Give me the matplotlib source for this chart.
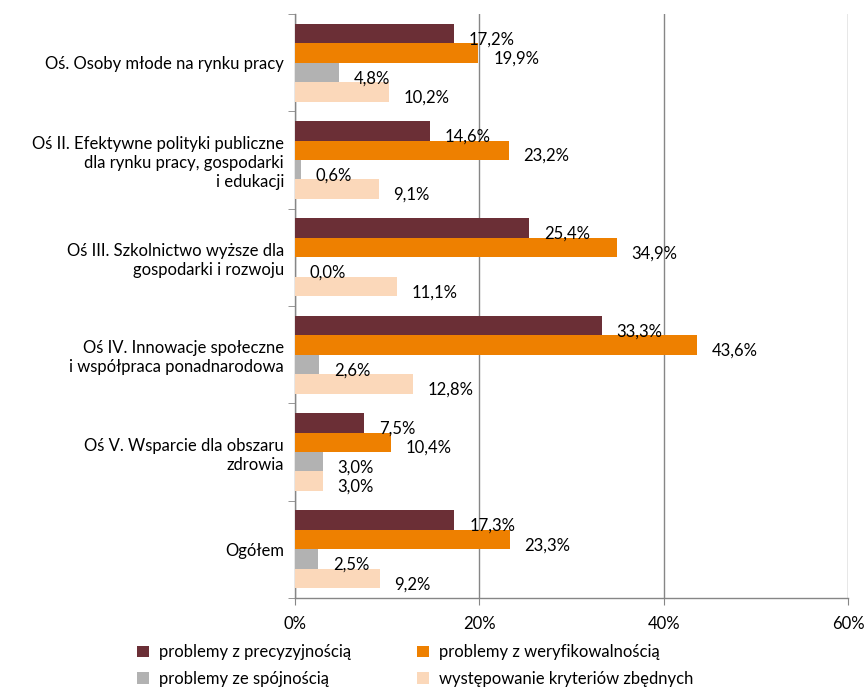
import matplotlib.pyplot as plt
import numpy as np

plt.rcParams['font.family'] = ['Lato', 'DejaVu Sans']

categories = ["Oś. Osoby młode na rynku pracy",
              "Oś II. Efektywne polityki publiczne\ndla rynku pracy, gospodarki\ni edukacji",
              "Oś III. Szkolnictwo wyższe dla\ngospodarki i rozwoju",
              "Oś IV. Innowacje społeczne\ni współpraca ponadnarodowa",
              "Oś V. Wsparcie dla obszaru\nzdrowia",
              "Ogółem"]
precyzyjnosc = [17.2, 14.6, 25.4, 33.3, 7.5, 17.3]
weryfikowalnosc = [19.9, 23.2, 34.9, 43.6, 10.4, 23.3]
spojnosc = [4.8, 0.6, 0.0, 2.6, 3.0, 2.5]
zbedne = [10.2, 9.1, 11.1, 12.8, 3.0, 9.2]

series = [precyzyjnosc, weryfikowalnosc, spojnosc, zbedne]
labels = ["problemy z precyzyjnością", "problemy z weryfikowalnością",
          "problemy ze spójnością", "występowanie kryteriów zbędnych"]
colours = ["#6B2F36", "#EE8000", "#B2B2B2", "#FBD8BA"]

fig = plt.figure(figsize=(8.65, 6.89), dpi=100)
ax = fig.add_axes([295 / 865, 1 - 598 / 689, 553 / 865, 584 / 689])

y = np.arange(len(categories))
h = 0.2
bars = []
for i, vals in enumerate(series):
    pos = y - 0.3 + i * h
    b = ax.barh(pos, vals, height=h, color=colours[i], label=labels[i], zorder=3)
    bars.append(b)
    for p, v in zip(pos, vals):
        ax.text(v + 1.6, p + 0.06, f"{v:.1f}%".replace(".", ","), va="center",
                ha="left", fontsize=12, zorder=4)

ax.set_xlim(0, 60)
ax.set_ylim(len(categories) - 0.5, -0.5)
ax.set_xticks([0, 20, 40, 60])
ax.set_xticklabels(["0%", "20%", "40%", "60%"], fontsize=12)
ax.set_yticks(y)
ax.set_yticklabels(categories, fontsize=12, ha="right", multialignment="right",
                   linespacing=1.25)
ax.set_yticks(np.arange(-0.5, len(categories)), minor=True)
ax.tick_params(axis="y", which="major", length=0, pad=8)
ax.tick_params(axis="y", which="minor", length=5, color="#868686", direction="out")
ax.tick_params(axis="x", length=5, color="#868686", direction="out", pad=8)
ax.grid(axis="x", color="#868686", linewidth=1, zorder=0)
for s in ["top", "right"]:
    ax.spines[s].set_visible(False)
for s in ["left", "bottom"]:
    ax.spines[s].set_color("#868686")
    ax.spines[s].set_linewidth(1)

handles = [bars[0], bars[2], bars[1], bars[3]]
leg_labels = [labels[0], labels[2], labels[1], labels[3]]
fig.legend(handles, leg_labels, ncol=2, frameon=False, fontsize=12,
           loc="lower left", bbox_to_anchor=(122 / 865, -0.019),
           handlelength=0.7, handleheight=0.7, columnspacing=4.0,
           labelspacing=0.65, handletextpad=0.6)

fig.savefig("out.png", dpi=100)
